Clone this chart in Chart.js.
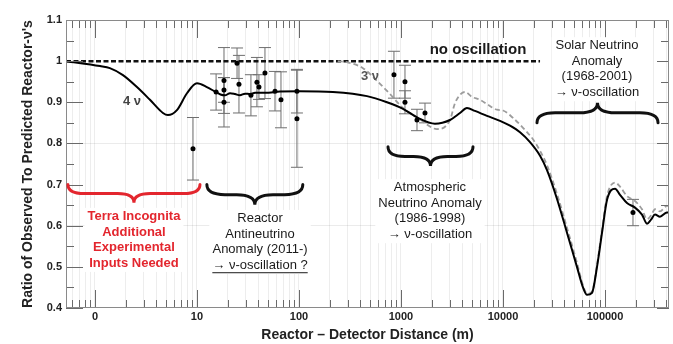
<!DOCTYPE html>
<html>
<head>
<meta charset="utf-8">
<script src="https://cdn.jsdelivr.net/npm/chart.js@4.4.0/dist/chart.umd.min.js"></script>
<style>
html, body { margin:0; padding:0; background:#fff; }
</style>
</head>
<body>
<canvas id="chart" width="673" height="344"></canvas>
<script>

// AXIS TICKS
const xDecades = [1, 10, 100, 1000, 10000, 100000];
const xDecadeLabels = ["0", "10", "100", "1000", "10000", "100000"];
const yTickValues = [0.4, 0.5, 0.6, 0.7, 0.8, 0.9, 1.0, 1.1];
const yTickLabels = ["0.4", "0.5", "0.6", "0.7", "0.8", "0.9", "1", "1.1"];

// NO OSCILLATION LINE
const noOscX = [0.52, 23070];
const noOscY = [1, 1];

// 4 NEUTRINO CURVE
const fourNuX = [0.52, 1.12, 1.40, 1.88, 2.58, 3.46, 4.64, 5.19, 6.36, 7.98, 10, 12.5, 15.0, 17.0, 18.8, 21.1, 23.6, 26.4, 29.6, 33.1, 37.1, 46.4, 65, 100, 215, 464, 729, 1047, 1468, 2154, 3022, 3785, 4434, 5309, 6965, 9350, 11720, 14680, 18400, 23070, 27000, 33850, 42400, 53100, 60850, 66650, 74600, 83500, 93500, 104700, 125400, 140300, 164300, 196800, 230500, 258000, 282600, 309000, 346000, 405000, 424000];
const fourNuY = [1.0, 0.988, 0.983, 0.966, 0.937, 0.906, 0.874, 0.869, 0.881, 0.922, 0.946, 0.937, 0.926, 0.919, 0.917, 0.922, 0.920, 0.917, 0.921, 0.920, 0.923, 0.923, 0.926, 0.927, 0.925, 0.915, 0.900, 0.884, 0.862, 0.848, 0.857, 0.874, 0.886, 0.879, 0.867, 0.855, 0.843, 0.827, 0.803, 0.770, 0.735, 0.665, 0.583, 0.500, 0.450, 0.432, 0.437, 0.500, 0.583, 0.663, 0.690, 0.675, 0.655, 0.644, 0.627, 0.605, 0.615, 0.627, 0.622, 0.632, 0.632];

// 3 NEUTRINO CURVE
const threeNuX = [240, 300, 424, 582, 780, 1047, 1468, 2250, 3022, 3385, 3785, 4240, 4970, 5950, 7130, 8740, 10000, 12530, 15700, 19680, 23070, 27000, 33850, 42400, 53100, 60850, 66650, 74600, 83500, 93500, 104700, 125400, 140300, 164300, 196800, 230500, 258000, 282600, 309000, 346000, 405000, 424000];
const threeNuY = [1.0, 0.997, 0.983, 0.952, 0.920, 0.886, 0.862, 0.835, 0.857, 0.898, 0.918, 0.925, 0.913, 0.906, 0.894, 0.882, 0.880, 0.862, 0.838, 0.810, 0.782, 0.747, 0.677, 0.595, 0.510, 0.455, 0.435, 0.440, 0.505, 0.590, 0.672, 0.705, 0.695, 0.672, 0.660, 0.640, 0.616, 0.625, 0.640, 0.635, 0.648, 0.648];

// MEASUREMENTS
const ptX = [9.14, 15.4, 18.4, 18.4, 18.4, 24.7, 25.8, 33.8, 38.7, 40.5, 46.4, 58.2, 66.6, 95.5, 95.5, 853, 1094, 1094, 1435, 1719, 188000];
const ptY = [0.787, 0.925, 0.953, 0.930, 0.900, 0.995, 0.944, 0.917, 0.949, 0.937, 0.971, 0.927, 0.906, 0.927, 0.860, 0.967, 0.950, 0.900, 0.857, 0.874, 0.632];
const ptErr = [0.076, 0.044, 0.080, 0.030, 0.060, 0.037, 0.070, 0.050, 0.060, 0.030, 0.062, 0.048, 0.068, 0.053, 0.118, 0.057, 0.040, 0.028, 0.026, 0.024, 0.032];


// minor log ticks 1..9 x 10^k
const xTickValues = [];
for(let k = -1; k <= 5; k++){
    for(let m = 1; m <= 9; m++){
        const v = +(m * Math.pow(10, k)).toPrecision(6);
        if(v >= 0.52 && v <= 424000) xTickValues.push(v);
    }
}
const yAllTicks = [];
for(let i = 0; i <= 14; i++) yAllTicks.push(+(0.4 + i * 0.05).toFixed(2));

function pairs(xs, ys){
    return xs.map((x, i) => ({x: x, y: ys[i]}));
}

function isMajorY(v){
    return yTickValues.some(t => Math.abs(t - v) < 1e-6);
}


// annotation blocks (x in metres, y in ratio)
const textBlocks = [
    {lines:["Terra Incognita","Additional","Experimental","Inputs Needed"], x:2.41, y:0.622, font:"bold 13px Arial", color:"#e3262e"},
    {lines:["Reactor","Antineutrino","Anomaly (2011-)","\u2192 \u03bd-oscillation ?"], x:41.5, y:0.617, font:"13px Arial", color:"#1a1a1a", underline:true},
    {lines:["Atmospheric","Neutrino Anomaly","(1986-1998)","\u2192 \u03bd-oscillation"], x:1924, y:0.692, font:"13px Arial", color:"#1a1a1a"},
    {lines:["Solar Neutrino","Anomaly","(1968-2001)","\u2192 \u03bd-oscillation"], x:83500, y:1.037, font:"13px Arial", color:"#1a1a1a"}
];

const labels = [
    {text:"no oscillation", x:5690, y:1.027, font:"bold 15px Arial", color:"#1a1a1a"},
    {text:"3 \u03bd", x:497, y:0.962, font:"bold 13px Arial", color:"#555"},
    {text:"4 \u03bd", x:2.31, y:0.901, font:"bold 13px Arial", color:"#444"}
];

const braces = [
    {x1:0.543, x2:10.7, yEnd:0.70, yTip:0.656, color:"#e3262e"},
    {x1:12.5, x2:109, yEnd:0.70, yTip:0.651, color:"#111"},
    {x1:746, x2:5080, yEnd:0.792, yTip:0.745, color:"#111"},
    {x1:21540, x2:331000, yEnd:0.85, yTip:0.899, color:"#111"}
];


function drawBrace(ctx, x1, x2, yEnd, yTip){
    const yMid = (yEnd + yTip) / 2;
    const xm = (x1 + x2) / 2;
    const q = Math.min(Math.abs(yTip - yEnd) * 0.9, (x2 - x1) / 5);
    ctx.beginPath();
    ctx.moveTo(x1, yEnd);
    ctx.quadraticCurveTo(x1, yMid, x1 + q, yMid);
    ctx.lineTo(xm - q, yMid);
    ctx.quadraticCurveTo(xm, yMid, xm, yTip);
    ctx.quadraticCurveTo(xm, yMid, xm + q, yMid);
    ctx.lineTo(x2 - q, yMid);
    ctx.quadraticCurveTo(x2, yMid, x2, yEnd);
    ctx.stroke();
}


const decorPlugin = {
    id: "decor",

    // ERROR BARS (under the curves)
    beforeDatasetsDraw(chart){
        const ctx = chart.ctx;
        const ys = chart.scales.y;
        const meta = chart.getDatasetMeta(0);
        ctx.save();
        ctx.strokeStyle = "#6e6e6e";
        ctx.lineWidth = 1;
        meta.data.forEach((pt, i) => {
            const top = ys.getPixelForValue(ptY[i] + ptErr[i]);
            const bot = ys.getPixelForValue(ptY[i] - ptErr[i]);
            ctx.beginPath();
            ctx.moveTo(pt.x, top); ctx.lineTo(pt.x, bot);
            ctx.moveTo(pt.x - 6, top); ctx.lineTo(pt.x + 6, top);
            ctx.moveTo(pt.x - 6, bot); ctx.lineTo(pt.x + 6, bot);
            ctx.stroke();
        });
        ctx.restore();
    },

    // BRACES + TEXT + FRAME
    afterDatasetsDraw(chart){
        const ctx = chart.ctx;
        const xs = chart.scales.x;
        const ys = chart.scales.y;
        const a = chart.chartArea;

        ctx.save();

        // frame ticks pointing inward
        ctx.strokeStyle = "#6a6a6a";
        ctx.lineWidth = 1;
        xs.ticks.forEach(t => {
            const px = Math.round(xs.getPixelForValue(t.value)) + 0.5;
            const L = xDecades.includes(t.value) ? 18 : 8;
            ctx.beginPath();
            ctx.moveTo(px, a.bottom); ctx.lineTo(px, a.bottom - L);
            ctx.moveTo(px, a.top); ctx.lineTo(px, a.top + L);
            ctx.stroke();
        });
        ys.ticks.forEach(t => {
            const py = Math.round(ys.getPixelForValue(t.value)) + 0.5;
            const major = isMajorY(t.value);
            ctx.beginPath();
            ctx.moveTo(a.left, py); ctx.lineTo(a.left + (major ? 17 : 8), py);
            ctx.moveTo(a.right, py); ctx.lineTo(a.right - (major ? 12 : 8), py);
            ctx.stroke();
        });
        ctx.strokeStyle = "#8a8a8a";
        ctx.strokeRect(a.left + 0.5, a.top + 0.5, a.right - a.left - 1, a.bottom - a.top - 1);

        // braces
        ctx.lineWidth = 3;
        ctx.lineCap = "round";
        braces.forEach(b => {
            ctx.strokeStyle = b.color;
            drawBrace(ctx, xs.getPixelForValue(b.x1), xs.getPixelForValue(b.x2),
                ys.getPixelForValue(b.yEnd), ys.getPixelForValue(b.yTip));
        });

        // text blocks on white boxes
        const lh = 15.5;
        ctx.textAlign = "center";
        ctx.textBaseline = "middle";
        textBlocks.forEach(tb => {
            const cx = xs.getPixelForValue(tb.x);
            const cy = ys.getPixelForValue(tb.y);
            ctx.font = tb.font;
            const w = Math.max(...tb.lines.map(l => ctx.measureText(l).width));
            ctx.fillStyle = "#fff";
            ctx.fillRect(cx - w / 2 - 3, cy - lh / 2 - 1, w + 6, lh * tb.lines.length + 2);
            ctx.fillStyle = tb.color;
            tb.lines.forEach((l, i) => {
                ctx.fillText(l, cx, cy + i * lh);
            });
            if(tb.underline){
                const last = tb.lines[tb.lines.length - 1];
                const lw = ctx.measureText(last).width;
                const uy = cy + (tb.lines.length - 1) * lh + 7.5;
                ctx.strokeStyle = tb.color;
                ctx.lineWidth = 1;
                ctx.lineCap = "butt";
                ctx.beginPath();
                ctx.moveTo(cx - lw / 2, uy); ctx.lineTo(cx + lw / 2, uy);
                ctx.stroke();
            }
        });

        labels.forEach(lb => {
            ctx.font = lb.font;
            ctx.fillStyle = lb.color;
            ctx.fillText(lb.text, xs.getPixelForValue(lb.x), ys.getPixelForValue(lb.y));
        });

        ctx.restore();
    }
};


new Chart(document.getElementById("chart"), {
    type: "line",
    data: {
        datasets: [
            {
                label: "Measurements",
                data: pairs(ptX, ptY),
                showLine: false,
                pointRadius: 2.5,
                pointBackgroundColor: "#000",
                pointBorderWidth: 0
            },
            {
                label: "4 nu",
                data: pairs(fourNuX, fourNuY),
                borderColor: "#000",
                borderWidth: 2,
                pointRadius: 0,
                cubicInterpolationMode: "monotone"
            },
            {
                label: "3 nu",
                data: pairs(threeNuX, threeNuY),
                borderColor: "#9c9c9c",
                borderWidth: 1.8,
                borderDash: [5, 3],
                pointRadius: 0,
                cubicInterpolationMode: "monotone"
            },
            {
                label: "no oscillation",
                data: pairs(noOscX, noOscY),
                borderColor: "#111",
                borderWidth: 2.5,
                borderDash: [5, 2.5],
                pointRadius: 0
            }
        ]
    },
    options: {
        responsive: false,
        animation: false,
        layout: { padding: { left: 0, right: 4, top: 20, bottom: 0 } },
        plugins: {
            legend: { display: false },
            tooltip: { enabled: false }
        },
        scales: {
            x: {
                type: "logarithmic",
                min: 0.52,
                max: 424000,
                afterBuildTicks: s => { s.ticks = xTickValues.map(v => ({value: v})); },
                afterFit: s => { s.height = 36; },
                grid: {
                    drawTicks: false,
                    color: "rgba(0,0,0,0.07)"
                },
                border: { display: false },
                ticks: {
                    autoSkip: false,
                    maxRotation: 0,
                    padding: 2,
                    color: "#222",
                    font: { family: "Arial", size: 11, weight: "bold" },
                    callback: v => {
                        const i = xDecades.indexOf(v);
                        return i >= 0 ? xDecadeLabels[i] : "";
                    }
                },
                title: {
                    display: true,
                    text: "Reactor \u2013 Detector Distance (m)",
                    color: "#222",
                    font: { family: "Arial", size: 14, weight: "bold" },
                    padding: { top: 0, bottom: 0 }
                }
            },
            y: {
                min: 0.4,
                max: 1.1,
                afterBuildTicks: s => { s.ticks = yAllTicks.map(v => ({value: v})); },
                afterFit: s => { s.width = 66; },
                grid: {
                    drawTicks: false,
                    color: c => (Math.abs(c.tick.value - 0.8) < 1e-6 || Math.abs(c.tick.value - 0.6) < 1e-6) ? "rgba(0,0,0,0.08)" : "rgba(0,0,0,0)"
                },
                border: { display: false },
                ticks: {
                    autoSkip: false,
                    padding: 4,
                    color: "#222",
                    font: { family: "Arial", size: 11, weight: "bold" },
                    callback: v => {
                        const i = yTickValues.findIndex(t => Math.abs(t - v) < 1e-6);
                        return i >= 0 ? yTickLabels[i] : "";
                    }
                },
                title: {
                    display: true,
                    text: "Ratio of Observed To Predicted Reactor-\u03bd's",
                    color: "#222",
                    font: { family: "Arial", size: 14, weight: "bold" },
                    padding: { top: 20, bottom: 0 }
                }
            }
        }
    },
    plugins: [decorPlugin]
});

</script>
</body>
</html>
